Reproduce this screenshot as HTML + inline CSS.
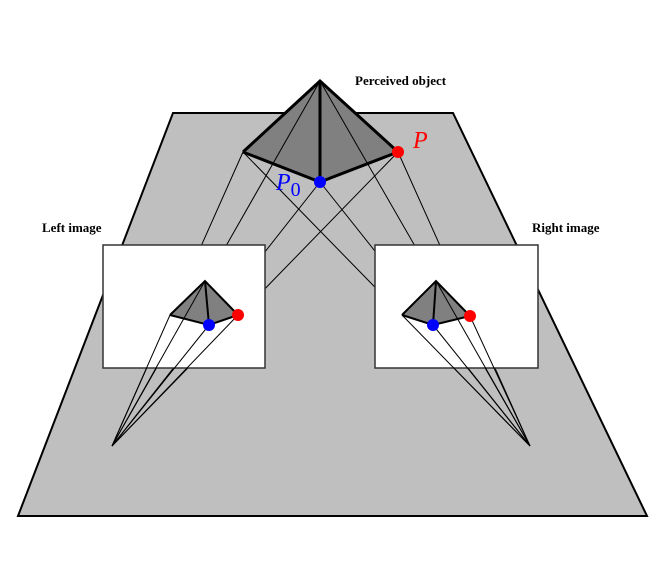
<!DOCTYPE html>
<html><head><meta charset="utf-8"><style>body{margin:0;background:#fff}svg{display:block}</style></head>
<body>
<svg width="658" height="574" viewBox="0 0 658 574" font-family="Liberation Serif, serif">
<polygon points="173,113 453,113 647,516 18,516" fill="#bfbfbf" stroke="#000" stroke-width="2"/>
<polygon points="320,81 243,152 320,182 398,152" fill="#808080"/>
<g stroke="#000" stroke-width="1">
<line x1="320" y1="81" x2="112" y2="446"/><line x1="243" y1="152" x2="112" y2="446"/><line x1="320" y1="182" x2="112" y2="446"/><line x1="398" y1="152" x2="112" y2="446"/>
<line x1="320" y1="81" x2="530" y2="446"/><line x1="243" y1="152" x2="530" y2="446"/><line x1="320" y1="182" x2="530" y2="446"/><line x1="398" y1="152" x2="530" y2="446"/>
</g>
<g stroke="#000" stroke-width="3" fill="none">
<polyline points="243,152 320,81 398,152"/><polyline points="243,152 320,182 398,152"/><line x1="320" y1="81" x2="320" y2="182"/>
</g>
<rect x="103" y="245" width="162" height="123" fill="#fff" stroke="#333" stroke-width="1.5"/>
<rect x="375" y="245" width="163" height="123" fill="#fff" stroke="#333" stroke-width="1.5"/>
<polygon points="205,281 170,315 209,325 238,315" fill="#808080"/>
<polygon points="436,281 402,315 433,325 470,316" fill="#808080"/>
<g stroke="#000" stroke-width="1">
<line x1="205" y1="281" x2="112" y2="446"/><line x1="170" y1="315" x2="112" y2="446"/><line x1="209" y1="325" x2="112" y2="446"/><line x1="238" y1="315" x2="112" y2="446"/>
<line x1="436" y1="281" x2="530" y2="446"/><line x1="402" y1="315" x2="530" y2="446"/><line x1="433" y1="325" x2="530" y2="446"/><line x1="470" y1="316" x2="530" y2="446"/>
</g>
<g stroke="#000" stroke-width="2" fill="none">
<polyline points="170,315 205,281 238,315"/><polyline points="170,315 209,325 238,315"/><line x1="205" y1="281" x2="209" y2="325"/>
<polyline points="402,315 436,281 470,316"/><polyline points="402,315 433,325 470,316"/><line x1="436" y1="281" x2="433" y2="325"/>
</g>
<circle cx="320" cy="182" r="6" fill="#0000ff"/>
<circle cx="398" cy="152" r="6" fill="#ff0000"/>
<circle cx="209" cy="325" r="6" fill="#0000ff"/>
<circle cx="238" cy="315" r="6" fill="#ff0000"/>
<circle cx="433" cy="325" r="6" fill="#0000ff"/>
<circle cx="470" cy="316" r="6" fill="#ff0000"/>
<text x="355" y="85" font-size="13" font-weight="bold">Perceived object</text>
<text x="42" y="232" font-size="13" font-weight="bold">Left image</text>
<text x="532" y="232" font-size="13" font-weight="bold">Right image</text>
<text x="413" y="148" font-size="24" font-style="italic" fill="#ff0000">P</text>
<text x="276" y="190" font-size="24" font-style="italic" fill="#0000ff">P<tspan font-style="normal" font-size="20" dy="6">0</tspan></text>
</svg>
</body></html>
